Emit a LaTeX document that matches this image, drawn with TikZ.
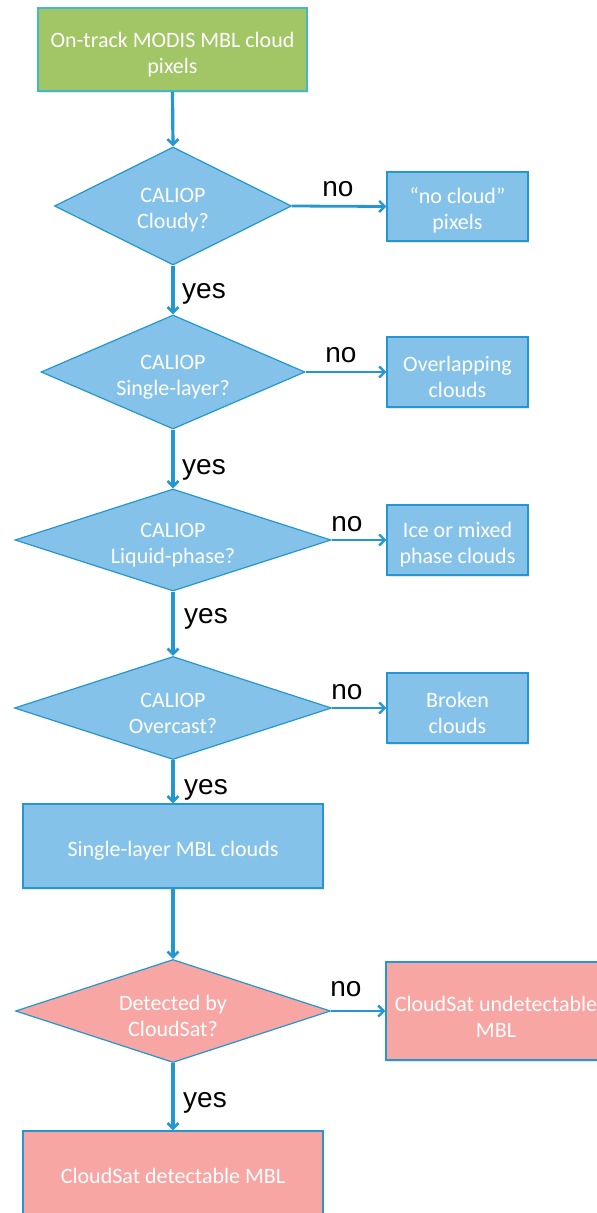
\documentclass[tikz,border=0pt]{standalone}
\usepackage{fontspec}
\setmainfont{Carlito}
\newfontfamily\arialf{Liberation Sans}
\usetikzlibrary{shapes.geometric,arrows.meta,shadows}
\definecolor{boxblue}{RGB}{133,194,234}
\definecolor{edgeblue}{RGB}{36,150,208}
\definecolor{boxpink}{RGB}{247,166,164}
\definecolor{boxgreen}{RGB}{162,197,101}
\definecolor{greenedge}{RGB}{64,186,196}
\tikzset{
  x=1pt,y=-1pt,
  txt/.style={text=white,font=\fontsize{22}{26}\selectfont,align=center,inner sep=0pt},
  base/.style={rectangle,inner sep=0pt,
    drop shadow={opacity=0.18,shadow xshift=1.2pt,shadow yshift=-1.8pt}},
  bluebox/.style={base,fill=boxblue,draw=edgeblue,line width=1.2pt},
  pinkbox/.style={base,fill=boxpink,draw=edgeblue,line width=1.2pt},
  greenbox/.style={base,fill=boxgreen,draw=greenedge,line width=1.8pt},
  decide/.style={diamond,draw=edgeblue,line width=1.2pt,inner sep=0pt},
  flow/.style={draw=edgeblue,line width=3.2pt,-{Straight Barb[length=5.5pt,width=11pt,line width=2.6pt]}},
  side/.style={draw=edgeblue,line width=2.8pt,-{Straight Barb[length=5.5pt,width=11pt,line width=2.4pt]}},
  lbl/.style={font=\arialf\fontsize{28}{30}\selectfont,text=black,inner sep=0pt},
}
\begin{document}
\begin{tikzpicture}
\clip (0,0) rectangle (597,1213);
\useasboundingbox (0,0) rectangle (597,1213);
\fill[white] (0,0) rectangle (597,1213);

\node[greenbox,minimum width=269pt,minimum height=83pt] (start) at (172.5,49.5) {};
\node[txt] (startt) at (172.5,55) {On-track MODIS MBL cloud\\pixels};

\node[decide,fill=boxblue,minimum width=237pt,minimum height=118pt] (d1) at (173,206) {};
\node[txt] (d1t) at (173,210.5) {CALIOP\\Cloudy?};
\node[bluebox,minimum width=141pt,minimum height=69pt] (b1) at (457.5,206.5) {};
\node[txt] (b1t) at (457.5,210.5) {“no cloud”\\pixels};

\node[decide,fill=boxblue,minimum width=264pt,minimum height=114pt] (d2) at (173,372) {};
\node[txt] (d2t) at (173,377) {CALIOP\\Single-layer?};
\node[bluebox,minimum width=141pt,minimum height=70pt] (b2) at (457.5,372) {};
\node[txt] (b2t) at (457.5,377) {Overlapping\\clouds};

\node[decide,fill=boxblue,minimum width=316pt,minimum height=102pt] (d3) at (173,540) {};
\node[txt] (d3t) at (173,545) {CALIOP\\Liquid-phase?};
\node[bluebox,minimum width=141pt,minimum height=70pt] (b3) at (457.5,540) {};
\node[txt] (b3t) at (457.5,544.5) {Ice or mixed\\phase clouds};

\node[decide,fill=boxblue,minimum width=317pt,minimum height=103pt] (d4) at (173,708) {};
\node[txt] (d4t) at (173,713) {CALIOP\\Overcast?};
\node[bluebox,minimum width=141pt,minimum height=70pt] (b4) at (457.5,708) {};
\node[txt] (b4t) at (457.5,713) {Broken\\clouds};

\node[bluebox,minimum width=300pt,minimum height=84pt] (single) at (173,846) {};
\node[txt] (singlet) at (173,851) {Single-layer MBL clouds};

\node[decide,fill=boxpink,minimum width=315pt,minimum height=103pt] (d5) at (173,1011) {};
\node[txt] (d5t) at (173,1016) {Detected by\\CloudSat?};
\node[pinkbox,minimum width=220pt,minimum height=98pt] (b5) at (496,1011) {};
\node[txt] (b5t) at (496,1017) {CloudSat undetectable\\MBL};

\node[pinkbox,minimum width=300pt,minimum height=86pt] (final) at (173,1174) {};
\node[txt] (finalt) at (173,1176) {CloudSat detectable MBL};

\draw[flow] (start.south) -- (d1.north);
\draw[flow] (d1.south) -- (d2.north);
\draw[flow] (d2.south) -- (d3.north);
\draw[flow] (d3.south) -- (d4.north);
\draw[flow] (d4.south) -- (single.north);
\draw[flow] (single.south) -- (d5.north);
\draw[flow] (d5.south) -- (final.north);

\draw[side] (d1.east) -- (b1.west);
\draw[side] (d2.east) -- (b2.west);
\draw[side] (d3.east) -- (b3.west);
\draw[side] (d4.east) -- (b4.west);
\draw[side] (d5.east) -- (b5.west);

\node[lbl] (n1) at (338,189) {no};
\node[lbl] (n2) at (341,355) {no};
\node[lbl] (n3) at (347,524) {no};
\node[lbl] (n4) at (347,692) {no};
\node[lbl] (n5) at (346,989) {no};

\node[lbl] (y1) at (204,294) {yes};
\node[lbl] (y2) at (204,470) {yes};
\node[lbl] (y3) at (206,619) {yes};
\node[lbl] (y4) at (206,790) {yes};
\node[lbl] (y5) at (205,1103) {yes};
\end{tikzpicture}
\end{document}
